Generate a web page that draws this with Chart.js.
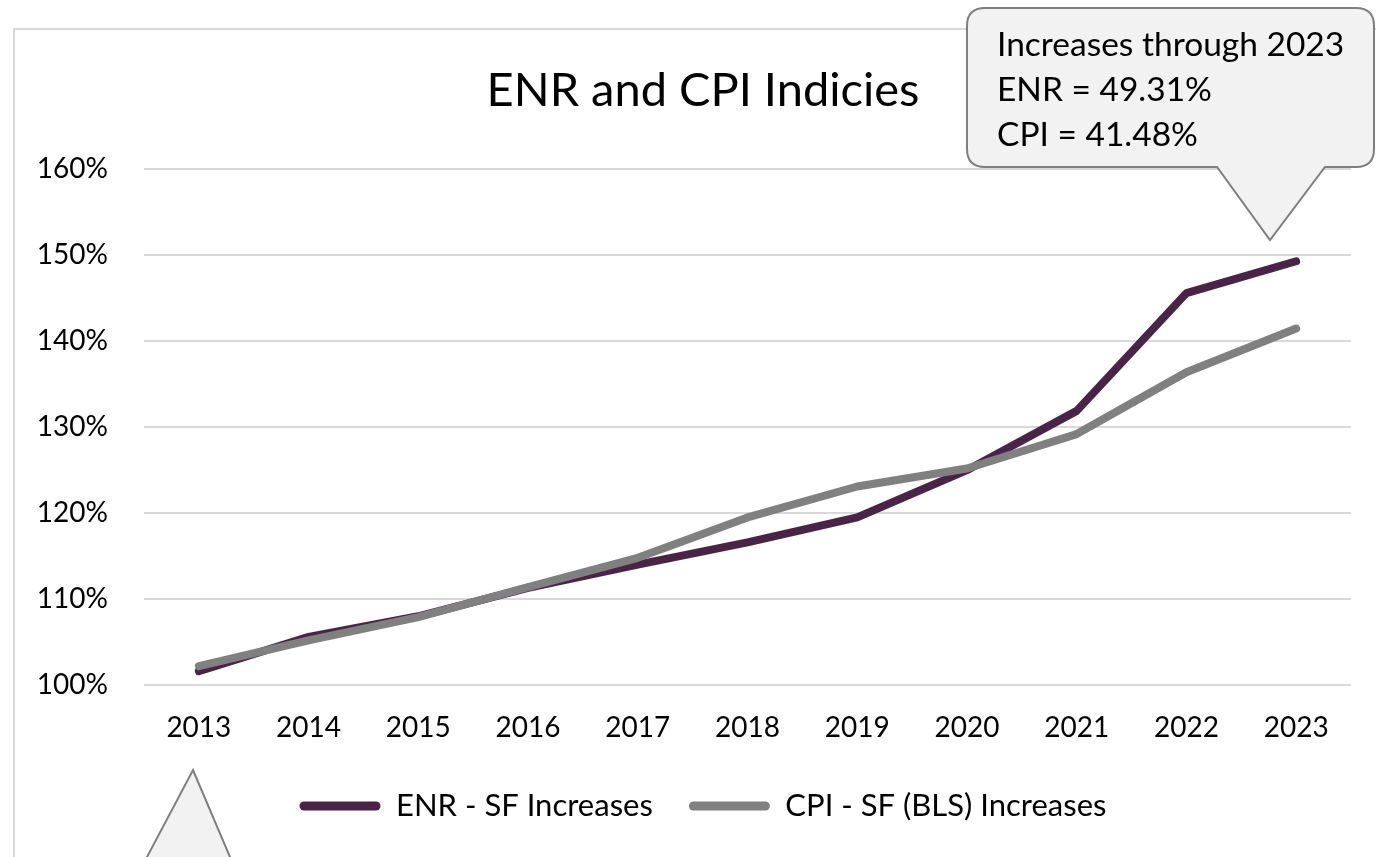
<!DOCTYPE html>
<html>
<head>
<meta charset="utf-8">
<script src="https://cdn.jsdelivr.net/npm/chart.js@4/dist/chart.umd.min.js"></script>
<style>
  html, body { margin: 0; padding: 0; background: #fff; }
  #wrap { width: 1376px; height: 857px; position: relative; }
</style>
</head>
<body>
<div id="wrap"><canvas id="chart" width="1376" height="857"></canvas></div>
<script>
// chart data
const years = ['2013', '2014', '2015', '2016', '2017', '2018', '2019', '2020', '2021', '2022', '2023'];
const enrValues = [101.6, 105.6, 108.0, 111.3, 114.0, 116.6, 119.5, 125.0, 131.9, 145.6, 149.31];
const cpiValues = [102.2, 105.2, 107.9, 111.4, 114.8, 119.5, 123.1, 125.2, 129.2, 136.4, 141.48];
const yTicks = [100, 110, 120, 130, 140, 150, 160];
const calloutLines = ['Increases through 2023', 'ENR = 49.31%', 'CPI = 41.48%'];

const FONT = 'Lato, "Open Sans", sans-serif';
const ENR_COLOR = '#4a2447';
const CPI_COLOR = '#808080';
const GRID = '#d9d9d9';

// frame + speech-bubble shapes around the chart
const decorPlugin = {
    id: 'decor',
    afterLayout(chart) {
        // let the y labels reach past the left padding without being clipped
        chart.scales.y.left = 0;
    },
    beforeDraw(chart) {
        const ctx = chart.ctx;
        ctx.save();
        ctx.strokeStyle = GRID;
        ctx.lineWidth = 2;
        ctx.strokeRect(14, 29, 1400, 900);
        ctx.restore();
    },
    afterDraw(chart) {
        const ctx = chart.ctx;
        ctx.save();
        ctx.fillStyle = '#f2f2f2';
        ctx.strokeStyle = '#7f7f7f';
        ctx.lineWidth = 2;
        ctx.lineJoin = 'miter';

        // top-right callout
        const x0 = 967, y0 = 8, x1 = 1374, y1 = 167, r = 18;
        ctx.beginPath();
        ctx.moveTo(x0 + r, y0);
        ctx.lineTo(x1 - r, y0);
        ctx.quadraticCurveTo(x1, y0, x1, y0 + r);
        ctx.lineTo(x1, y1 - r);
        ctx.quadraticCurveTo(x1, y1, x1 - r, y1);
        ctx.lineTo(1325, y1);
        ctx.lineTo(1270, 240);
        ctx.lineTo(1217, y1);
        ctx.lineTo(x0 + r, y1);
        ctx.quadraticCurveTo(x0, y1, x0, y1 - r);
        ctx.lineTo(x0, y0 + r);
        ctx.quadraticCurveTo(x0, y0, x0 + r, y0);
        ctx.closePath();
        ctx.fill();
        ctx.stroke();

        ctx.fillStyle = '#000';
        ctx.font = '33.5px ' + FONT;
        ctx.textAlign = 'left';
        ctx.textBaseline = 'alphabetic';
        calloutLines.forEach((t, i) => ctx.fillText(t, 997, 56 + i * 45));

        // bottom-left callout pointer (cut off by the page edge)
        ctx.fillStyle = '#f2f2f2';
        ctx.beginPath();
        ctx.moveTo(193, 770);
        ctx.lineTo(193 + (230 - 193) * 1.5, 770 + 87 * 1.5);
        ctx.lineTo(193 - (193 - 147) * 1.5, 770 + 87 * 1.5);
        ctx.closePath();
        ctx.fill();
        ctx.stroke();
        ctx.restore();
    }
};

new Chart(document.getElementById('chart'), {
    type: 'line',
    data: {
        labels: years,
        datasets: [
            {
                label: 'ENR - SF Increases',
                data: enrValues,
                borderColor: ENR_COLOR,
                backgroundColor: ENR_COLOR,
                borderWidth: 8,
                borderCapStyle: 'round',
                borderJoinStyle: 'round',
                pointRadius: 0,
                order: 1,
            },
            {
                label: 'CPI - SF (BLS) Increases',
                data: cpiValues,
                borderColor: CPI_COLOR,
                backgroundColor: CPI_COLOR,
                borderWidth: 8,
                borderCapStyle: 'round',
                borderJoinStyle: 'round',
                pointRadius: 0,
                order: 0,
            }
        ]
    },
    options: {
        responsive: false,
        animation: false,
        layout: { padding: { left: 55, right: 25, top: 0, bottom: 25.5 } },
        plugins: {
            title: {
                display: true,
                text: 'ENR and CPI Indicies',
                color: '#000',
                font: { family: FONT, size: 47, weight: 'normal', lineHeight: 1.2 },
                padding: { top: 63, bottom: 50 }
            },
            legend: {
                position: 'bottom',
                labels: {
                    color: '#000',
                    font: { family: FONT, size: 31 },
                    boxWidth: 81,
                    boxHeight: 9,
                    padding: 36,
                    useBorderRadius: true,
                    borderRadius: 4.5,
                    sort: (a, b) => a.datasetIndex - b.datasetIndex,
                    generateLabels: (chart) => {
                        const items = Chart.defaults.plugins.legend.labels.generateLabels(chart);
                        items.forEach(it => { it.lineWidth = 0; });
                        return items;
                    }
                }
            },
            tooltip: { enabled: false }
        },
        scales: {
            x: {
                offset: true,
                grid: { display: false, drawTicks: false },
                border: { display: false },
                ticks: { color: '#000', font: { family: FONT, size: 28 }, padding: 26, maxRotation: 0 },
                afterFit: (scale) => { scale.height = 69.5; }
            },
            y: {
                min: 100,
                max: 160,
                afterBuildTicks: (scale) => { scale.ticks = yTicks.map(v => ({ value: v })); },
                grid: { color: GRID, lineWidth: 2, drawTicks: false },
                border: { display: false },
                ticks: {
                    color: '#000',
                    font: { family: FONT, size: 28 },
                    padding: 36,
                    callback: (v) => v + '%'
                },
                afterFit: (scale) => { scale.width = 89; }
            }
        }
    },
    plugins: [decorPlugin]
});
</script>
</body>
</html>
